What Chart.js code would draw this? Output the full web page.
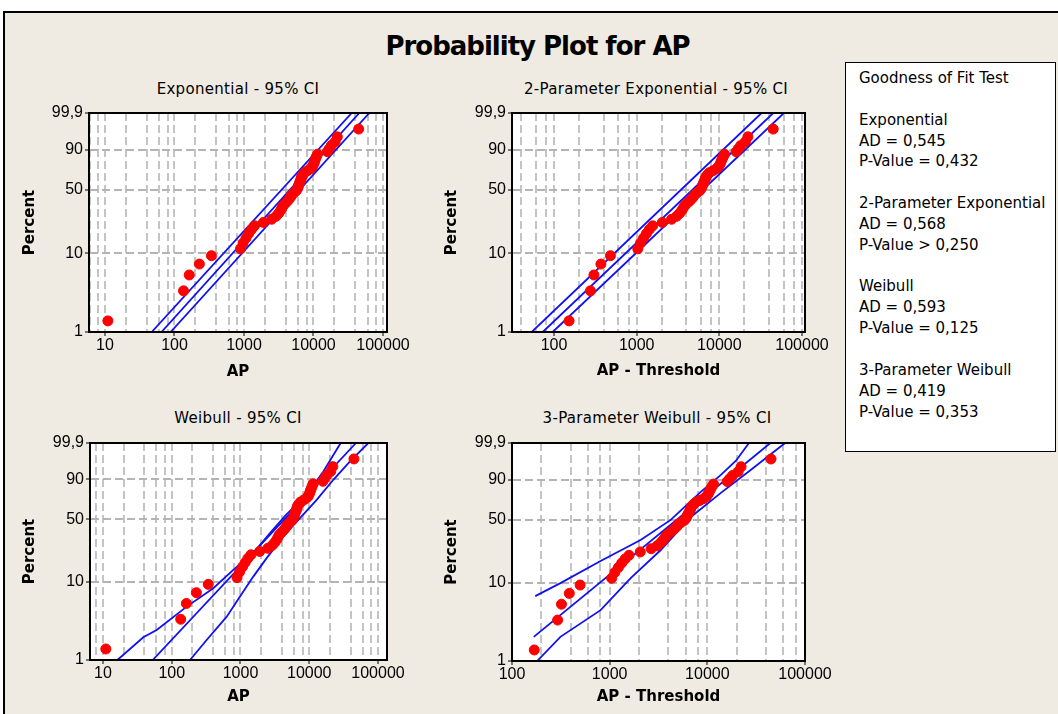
<!DOCTYPE html>
<html><head><meta charset="utf-8">
<script src="https://cdn.jsdelivr.net/npm/chart.js@4.4.1/dist/chart.umd.min.js"></script>
<style>
html,body{margin:0;padding:0;width:1058px;height:714px;overflow:hidden;background:#fff;}
body{position:relative;font-family:"DejaVu Sans",sans-serif;color:#000;}
#frame{position:absolute;left:3px;top:11px;width:1100px;height:800px;background:#EFEBE2;border:2px solid #000;box-sizing:border-box;}
#mainTitle{position:absolute;left:0;top:31px;width:1075px;text-align:center;font-weight:bold;font-size:26px;line-height:30px;letter-spacing:-1px;white-space:nowrap;}
.sub{position:absolute;width:400px;text-align:center;font-size:15px;line-height:18px;letter-spacing:0.3px;white-space:nowrap;}
canvas{position:absolute;}
#gof{position:absolute;left:845px;top:62px;width:211px;height:390px;box-sizing:border-box;border:1.5px solid #000;background:#fff;padding:5px 0 0 13px;font-size:15px;line-height:20.85px;white-space:pre;z-index:5;}
</style></head><body>
<div id="frame"></div>
<div id="mainTitle">Probability Plot for AP</div>
<div class="sub" style="left:38px;top:80px">Exponential - 95% CI</div>
<div class="sub" style="left:456px;top:80px">2-Parameter Exponential - 95% CI</div>
<div class="sub" style="left:38px;top:409px">Weibull - 95% CI</div>
<div class="sub" style="left:457px;top:409px">3-Parameter Weibull - 95% CI</div>
<canvas id="c1" width="425" height="290" style="left:0px;top:100px"></canvas>
<canvas id="c2" width="420" height="290" style="left:430px;top:100px"></canvas>
<canvas id="c3" width="425" height="280" style="left:0px;top:430px"></canvas>
<canvas id="c4" width="420" height="280" style="left:430px;top:430px"></canvas>
<div id="gof"></div>
<script>
// ---------- data ----------
const apValues = [11,135,163,228,340,890,970,1070,1170,1280,1420,1900,2500,2900,3150,3350,3500,3650,3900,4200,4450,4700,4850,5200,5600,5850,6000,6100,6250,6400,6550,6650,6800,7100,7450,8200,9000,9600,9900,10200,10400,10700,11000,11400,15800,16800,18000,20500,22000,44700];
const percentValues = [1.39,3.37,5.36,7.34,9.33,11.31,13.29,15.28,17.26,19.25,21.23,23.21,25.20,27.18,29.17,31.15,33.13,35.12,37.10,39.09,41.07,43.06,45.04,47.02,49.01,50.99,52.98,54.96,56.94,58.93,60.91,62.90,64.88,66.87,68.85,70.83,72.82,74.80,76.79,78.77,80.75,82.74,84.72,86.71,88.69,90.67,92.66,94.64,96.63,98.61];
const threshold2P = -141;
const threshold3P = -158;

const yTickPercents = [1, 10, 50, 90, 99.9];
const yTickLabels = ['1', '10', '50', '90', '99,9'];

// Exponential fit and 95% CI (x = AP)
const expFitX = [65, 45600], expFitP = [1, 99.9];
const expUpperX = [47, 35500], expUpperP = [1, 99.9];
const expLowerX = [88, 63600], expLowerP = [1, 99.9];
// 2-parameter exponential (x = AP - threshold)
const exp2FitX = [73, 44900], exp2FitP = [1, 99.9];
const exp2UpperX = [53.7, 32400], exp2UpperP = [1, 99.9];
const exp2LowerX = [96.4, 60400], exp2LowerP = [1, 99.9];
// Weibull (x = AP)
const weiFitX = [52.9, 47900], weiFitP = [1, 99.9];
const weiUpperX = [16.2, 38.6, 60.4, 165, 402, 785, 1535, 2685, 4590, 9180, 16030, 28640];
const weiUpperP = [1, 1.97, 2.45, 4.89, 8.36, 14.06, 22.17, 36.78, 54.8, 76.6, 94.7, 99.9];
const weiLowerX = [184, 322, 630, 984, 1535, 2400, 4190, 7330, 12820, 22390, 39170, 72300];
const weiLowerP = [1, 1.82, 3.64, 6.55, 11.64, 19.4, 33.9, 51.3, 71.35, 89.8, 98.1, 99.9];
// 3-parameter Weibull (x = AP - threshold)
const w3FitX = [167, 44200], w3FitP = [2.05, 99.9];
const w3UpperX = [173, 313, 807, 2074, 4217, 8570, 13760, 19640, 26700];
const w3UpperP = [6.79, 9.86, 18.2, 31.5, 49.8, 79.8, 93.0, 98.27, 99.9];
const w3LowerX = [181, 313, 807, 1641, 3337, 6776, 13760, 27990, 62500];
const w3LowerP = [1, 2.05, 4.51, 11.36, 24.4, 52.9, 78.8, 95.48, 99.9];

const gofLines = ['Goodness of Fit Test','','Exponential','AD = 0,545','P-Value = 0,432','',
 '2-Parameter Exponential','AD = 0,568','P-Value > 0,250','','Weibull','AD = 0,593','P-Value = 0,125','',
 '3-Parameter Weibull','AD = 0,419','P-Value = 0,353'];

// ---------- helpers ----------
document.getElementById('gof').textContent = gofLines.join('\n');
const tr = p => Math.log(-Math.log(1 - p / 100));
const isDecade = v => Math.abs(Math.log10(v) - Math.round(Math.log10(v))) < 1e-6;
function xGridValues(min, max) {
  const out = [];
  for (let e = 0; e <= 6; e++) for (const m of [1, 2, 4, 6, 8]) {
    const v = m * Math.pow(10, e);
    if (v >= min * 0.999 && v <= max * 1.001) out.push(v);
  }
  return out;
}
const pts = (xs, ps, shift) => xs.map((x, i) => ({x: x - (shift || 0), y: tr(ps[i])}));
const framePlugin = {
  id: 'frame',
  beforeDraw(chart) {
    const {ctx, chartArea: a} = chart;
    ctx.save(); ctx.fillStyle = '#fff'; ctx.fillRect(a.left, a.top, a.right - a.left, a.bottom - a.top); ctx.restore();
  },
  afterDraw(chart) {
    const {ctx, chartArea: a} = chart;
    ctx.save(); ctx.strokeStyle = '#000'; ctx.lineWidth = 2; ctx.strokeRect(a.left, a.top, a.right - a.left, a.bottom - a.top); ctx.restore();
  }
};
const tickFont = {family: 'Liberation Sans', size: 16};
const titleFont = {family: 'DejaVu Sans', size: 15, weight: 'bold'};

function buildPanel(id, spec) {
  const datasets = [
    {data: spec.points, backgroundColor: '#ff0000', borderColor: '#ff0000', pointRadius: 5, pointBorderWidth: 1, showLine: false},
    ...spec.lines.map(l => ({data: l, showLine: true, borderColor: '#1010f2', borderWidth: 1.8, pointRadius: 0, fill: false, clip: 0}))
  ];
  new Chart(document.getElementById(id), {
    type: 'scatter',
    data: {datasets},
    options: {
      responsive: false, animation: false, devicePixelRatio: 1,
      layout: {padding: {left: 0, top: spec.padTop, right: spec.padRight, bottom: 0}},
      plugins: {legend: {display: false}, tooltip: {enabled: false}},
      scales: {
        x: {
          type: 'logarithmic', position: 'bottom', min: spec.xMin, max: spec.xMax,
          afterBuildTicks: s => { s.ticks = xGridValues(spec.xMin, spec.xMax).map(v => ({value: v})); },
          afterFit: s => { s.height = spec.xAxisHeight; s.paddingLeft = 0; s.paddingRight = 0; },
          ticks: {autoSkip: false, maxRotation: 0, minRotation: 0, padding: 0, color: '#000', font: tickFont,
                  callback: v => isDecade(v) ? String(Math.round(v)) : ''},
          grid: {color: '#c4c4c4', lineWidth: 2, tickLength: 4, tickWidth: 1,
                 tickColor: c => (c.tick && isDecade(c.tick.value)) ? '#000' : 'rgba(0,0,0,0)'},
          border: {display: true, color: '#000', width: 2, dash: [8, 4]},
          title: {display: true, text: spec.xTitle, color: '#000', font: titleFont, padding: {top: 0, bottom: spec.xTitlePad}}
        },
        y: {
          type: 'linear', position: 'left', min: tr(1), max: tr(99.9),
          afterBuildTicks: s => { s.ticks = yTickPercents.map(p => ({value: tr(p)})); },
          afterFit: s => { s.width = spec.yAxisWidth; s.paddingTop = 0; s.paddingBottom = 0; },
          ticks: {autoSkip: false, padding: 2, color: '#000', font: tickFont, callback: (v, i) => yTickLabels[i]},
          grid: {color: c => (c.index === 0 || c.index === yTickPercents.length - 1) ? 'rgba(0,0,0,0)' : '#b4b4b4',
                 lineWidth: 2, tickLength: 4, tickWidth: 1, tickColor: '#000'},
          border: {display: true, color: '#000', width: 2, dash: [8, 4]},
          title: {display: true, text: 'Percent', color: '#000', font: titleFont, padding: {top: spec.yTitlePad, bottom: 0}}
        }
      }
    },
    plugins: [framePlugin]
  });
}

buildPanel('c1', {
  points: pts(apValues, percentValues),
  lines: [pts(expUpperX, expUpperP), pts(expFitX, expFitP), pts(expLowerX, expLowerP)],
  xMin: 5.89, xMax: 114200, xTitle: 'AP',
  yAxisWidth: 89, padTop: 13, padRight: 38, xAxisHeight: 58, xTitlePad: 9, yTitlePad: 21
});
buildPanel('c2', {
  points: pts(apValues, percentValues, threshold2P),
  lines: [pts(exp2UpperX, exp2UpperP), pts(exp2FitX, exp2FitP), pts(exp2LowerX, exp2LowerP)],
  xMin: 31.0, xMax: 108700, xTitle: 'AP - Threshold',
  yAxisWidth: 82, padTop: 13, padRight: 45, xAxisHeight: 58, xTitlePad: 10, yTitlePad: 13
});
buildPanel('c3', {
  points: pts(apValues, percentValues),
  lines: [pts(weiUpperX, weiUpperP), pts(weiFitX, weiFitP), pts(weiLowerX, weiLowerP)],
  xMin: 6.47, xMax: 135200, xTitle: 'AP',
  yAxisWidth: 90, padTop: 13, padRight: 38, xAxisHeight: 50, xTitlePad: 4, yTitlePad: 21
});
buildPanel('c4', {
  points: pts(apValues, percentValues, threshold3P),
  lines: [pts(w3UpperX, w3UpperP), pts(w3FitX, w3FitP), pts(w3LowerX, w3LowerP)],
  xMin: 100, xMax: 100000, xTitle: 'AP - Threshold',
  yAxisWidth: 82, padTop: 13, padRight: 45, xAxisHeight: 49, xTitlePad: 4, yTitlePad: 13
});
</script>
</body></html>
